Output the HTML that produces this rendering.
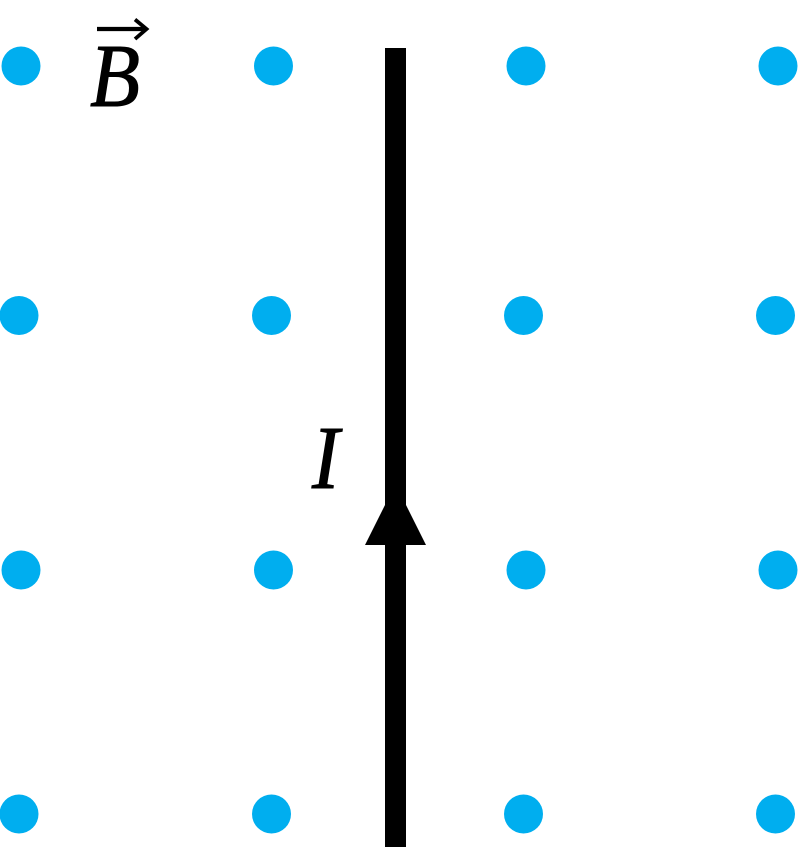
<!DOCTYPE html>
<html>
<head>
<meta charset="utf-8">
<style>
html,body{margin:0;padding:0;background:#fff;}
svg{display:block;}
text{font-family:"Liberation Serif",serif;font-style:italic;font-size:90px;fill:#000;stroke:#000;stroke-width:1;}
</style>
</head>
<body>
<svg width="798" height="847" viewBox="0 0 798 847" xmlns="http://www.w3.org/2000/svg">
<g fill="#00AEEF">
<circle cx="21" cy="66" r="19.5"/><circle cx="273.5" cy="66" r="19.5"/><circle cx="526" cy="66" r="19.5"/><circle cx="778" cy="66" r="19.5"/>
<circle cx="19" cy="315.5" r="19.5"/><circle cx="271.5" cy="315.5" r="19.5"/><circle cx="523.5" cy="315.5" r="19.5"/><circle cx="775.5" cy="315.5" r="19.5"/>
<circle cx="21" cy="570" r="19.5"/><circle cx="273.5" cy="570" r="19.5"/><circle cx="526" cy="570" r="19.5"/><circle cx="778" cy="570" r="19.5"/>
<circle cx="19" cy="814" r="19.5"/><circle cx="271.5" cy="814" r="19.5"/><circle cx="523.5" cy="814" r="19.5"/><circle cx="775.5" cy="814" r="19.5"/>
</g>
<rect x="385" y="48" width="21" height="799" fill="#000"/>
<polygon points="395.5,484 426,545 365,545" fill="#000"/>
<text transform="translate(90,106) scale(.91,1)" x="0" y="0">B</text>
<text transform="translate(312,488) scale(.91,1)" x="0" y="0">I</text>
<path d="M97 29H146" stroke="#000" stroke-width="4.2" fill="none"/>
<path d="M135 19.5L146.5 29L135 39" stroke="#000" stroke-width="3.8" fill="none"/>
</svg>
</body>
</html>
